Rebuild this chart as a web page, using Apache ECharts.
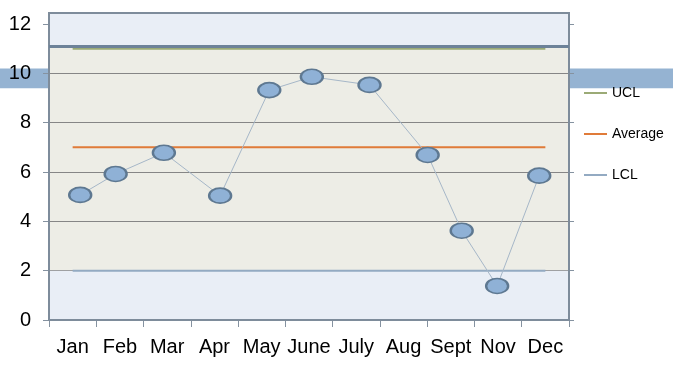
<!DOCTYPE html>
<html><head><meta charset="utf-8">
<script src="https://cdn.jsdelivr.net/npm/echarts@6/dist/echarts.min.js"></script>
<style>html,body{margin:0;padding:0;background:#fff}#c{width:673px;height:383px}</style>
</head><body><div id="c"></div>
<script>
const categories = ['Jan','Feb','Mar','Apr','May','June','July','Aug','Sept','Nov','Dec'];
const pointX = [0.66, 1.41, 2.43, 3.62, 4.66, 5.56, 6.78, 8.01, 8.73, 9.48, 10.37];
const pointY = [5.07, 5.92, 6.78, 5.04, 9.32, 9.86, 9.53, 6.69, 3.62, 1.38, 5.85];
const uclValues = [11, 11, 11, 11, 11, 11, 11, 11, 11, 11, 11];
const averageValues = [7, 7, 7, 7, 7, 7, 7, 7, 7, 7, 7];
const lclValues = [2, 2, 2, 2, 2, 2, 2, 2, 2, 2, 2];
const lowerZone = [0, 2];
const upperZone = [11.1, 12.45];
const strayBand = [9.4, 10.2];
const yMin = 0, yMax = 12, yInterval = 2;

const FONT = 'Liberation Sans, Arial, sans-serif';
const chart = echarts.init(document.getElementById('c'), null, {renderer: 'canvas'});
const pts = pointX.map((x, i) => [x, pointY[i]]);

chart.setOption({
  animation: false,
  backgroundColor: '#ffffff',
  textStyle: {fontFamily: FONT},
  grid: [
    {left: 0, right: 0, top: 24, bottom: 63},
    {left: 49, right: 104, top: 13, bottom: 63, show: true, backgroundColor: '#EDEDE6', borderWidth: 0},
    {left: 49, right: 104, top: 24, bottom: 63},
    {left: 49, right: 104, top: 13, bottom: 63, show: true, backgroundColor: 'transparent', borderColor: '#7E8C9B', borderWidth: 2, z: 5}
  ],
  xAxis: [
    {gridIndex: 0, type: 'value', min: 0, max: 1, show: false},
    {gridIndex: 1, type: 'value', min: 0, max: 1, show: false},
    {gridIndex: 2, type: 'category', data: categories, boundaryGap: true,
      axisLine: {show: true, lineStyle: {color: '#8592A0', width: 2}},
      axisTick: {show: true, length: 7, lineStyle: {color: '#8592A0', width: 1}},
      axisLabel: {color: '#000', fontSize: 20, fontFamily: FONT, margin: 17, interval: 0},
      splitLine: {show: false}},
    {gridIndex: 2, type: 'value', min: 0, max: 11, show: false},
    {gridIndex: 3, type: 'value', min: 0, max: 1, show: false}
  ],
  yAxis: [
    {gridIndex: 0, type: 'value', min: yMin, max: yMax, show: false},
    {gridIndex: 1, type: 'value', min: 0, max: upperZone[1], show: false},
    {gridIndex: 2, type: 'value', min: yMin, max: yMax, interval: yInterval, position: 'left',
      axisLine: {show: false},
      axisTick: {show: true, length: 6, lineStyle: {color: '#8592A0'}},
      axisLabel: {color: '#000', fontSize: 20, fontFamily: FONT, margin: 18},
      splitLine: {show: true, lineStyle: {color: ['#868686','#868686','#868686','#868686','#868686','#868686','rgba(0,0,0,0)'], width: 1}}},
    {gridIndex: 2, type: 'value', min: yMin, max: yMax, interval: yInterval, position: 'right',
      axisLine: {show: false},
      axisTick: {show: true, length: 5, lineStyle: {color: '#8592A0'}},
      axisLabel: {show: false},
      splitLine: {show: false}},
    {gridIndex: 3, type: 'value', min: 0, max: 1, show: false}
  ],
  legend: {
    data: [{name: 'UCL', icon: 'rect'}, {name: 'Average', icon: 'rect'}, {name: 'LCL', icon: 'rect'}],
    orient: 'vertical', left: 579, top: 81,
    itemWidth: 23, itemHeight: 2, itemGap: 27,
    textStyle: {fontSize: 14, color: '#000', fontFamily: FONT},
    selectedMode: false
  },
  series: [
    {name: 'stray', type: 'line', xAxisIndex: 0, yAxisIndex: 0, data: [], silent: true,
      markArea: {z: -5, silent: true, itemStyle: {color: '#95B3D2'}, data: [[{yAxis: strayBand[0]}, {yAxis: strayBand[1]}]]}},
    {name: 'zones', type: 'line', xAxisIndex: 1, yAxisIndex: 1, data: [], z: 1, silent: true,
      markArea: {silent: true, itemStyle: {color: '#E9EEF6'}, data: [
        [{yAxis: lowerZone[0]}, {yAxis: lowerZone[1]}],
        [{yAxis: upperZone[0]}, {yAxis: upperZone[1]}]
      ]},
      markLine: {silent: true, symbol: 'none', label: {show: false},
        lineStyle: {color: '#6D8299', width: 3, type: 'solid'}, data: [{yAxis: upperZone[0]}]}},
    {name: 'UCL', type: 'line', xAxisIndex: 2, yAxisIndex: 2, data: uclValues, symbol: 'none',
      lineStyle: {color: '#9BAA76', width: 2}, itemStyle: {color: '#9BAA76'}, z: 3},
    {name: 'Average', type: 'line', xAxisIndex: 2, yAxisIndex: 2, data: averageValues, symbol: 'none',
      lineStyle: {color: '#E07B39', width: 2}, itemStyle: {color: '#E07B39'}, z: 3},
    {name: 'LCL', type: 'line', xAxisIndex: 2, yAxisIndex: 2, data: lclValues, symbol: 'none',
      lineStyle: {color: '#93AAC2', width: 2}, itemStyle: {color: '#93AAC2'}, z: 3},
    {name: 'Data', type: 'line', xAxisIndex: 3, yAxisIndex: 2, data: pts,
      symbol: 'circle', symbolSize: [22, 15], showSymbol: true,
      lineStyle: {color: '#A6B7C8', width: 1},
      itemStyle: {color: '#8FB1D6', borderColor: '#5E7891', borderWidth: 2}, z: 4}
  ]
});
</script>
</body></html>
